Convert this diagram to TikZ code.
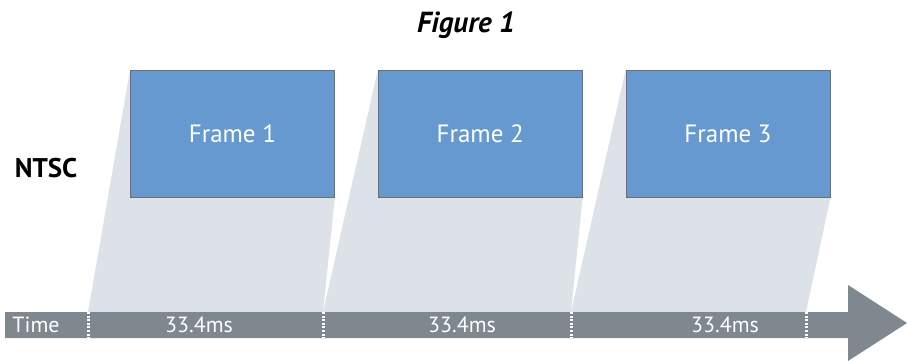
\documentclass[tikz,border=0pt]{standalone}
\usepackage{fontspec}
\setmainfont{PT Sans}
\usetikzlibrary{positioning,backgrounds}
\definecolor{framefill}{HTML}{6699D0}
\definecolor{framebd}{HTML}{6E6E6E}
\definecolor{shadegray}{HTML}{DCE2E8}
\definecolor{bargray}{HTML}{7F878F}

\begin{document}
\begin{tikzpicture}[
  x=1pt, y=-1pt, node distance=43pt, font=\fontsize{25}{30}\selectfont,
  frame/.style={draw=framebd, line width=0.8pt, fill=framefill, text=white, inner sep=0pt, minimum width=204pt, minimum height=127pt},
  shade/.style={fill=shadegray},
  tick/.style={draw=white, line width=3pt, dash pattern=on 2pt off 1.6pt},
  lab/.style={text=white, font=\fontsize{22}{26}\selectfont}]
\useasboundingbox (0,0) rectangle (907,360);
\node[font=\fontsize{29}{34}\selectfont\bfseries\itshape] (title) at (466,25) {Figure 1};
\node[frame, anchor=north west] (f1) at (130,70) {Frame 1};
\node[frame, right=of f1] (f2) {Frame 2};
\node[frame, right=of f2] (f3) {Frame 3};
\node[font=\fontsize{27}{32}\selectfont\bfseries] (ntsc) at (46,168) {NTSC};
% time bar with arrow head
\fill[bargray] (5,312) -- (848,312) -- (848,285) -- (907,323) -- (848,361) -- (848,338) -- (5,338) -- cycle;
\coordinate (t0) at (88,312);
\coordinate (t1) at (323,312);
\coordinate (t2) at (571,312);
\coordinate (t3) at (806,312);
\foreach \t in {t0,t1,t2,t3} \draw[tick] (\t) -- ++(0,26);
\node[lab] (time) at (36,325) {Time};
\node[lab] (d1) at (199,325) {33.4ms};
\node[lab] (d2) at (462,325) {33.4ms};
\node[lab] (d3) at (725,325) {33.4ms};
% projections of each frame onto its slot
\begin{scope}[on background layer]
\fill[shade] (f1.north west) -- (t0) -- (t1) -- (f1.south east) -- (f1.north east) -- cycle;
\fill[shade] (f2.north west) -- (t1) -- (t2) -- (f2.south east) -- (f2.north east) -- cycle;
\fill[shade] (f3.north west) -- (t2) -- (t3) -- (f3.south east) -- (f3.north east) -- cycle;
\end{scope}
\end{tikzpicture}
\end{document}
